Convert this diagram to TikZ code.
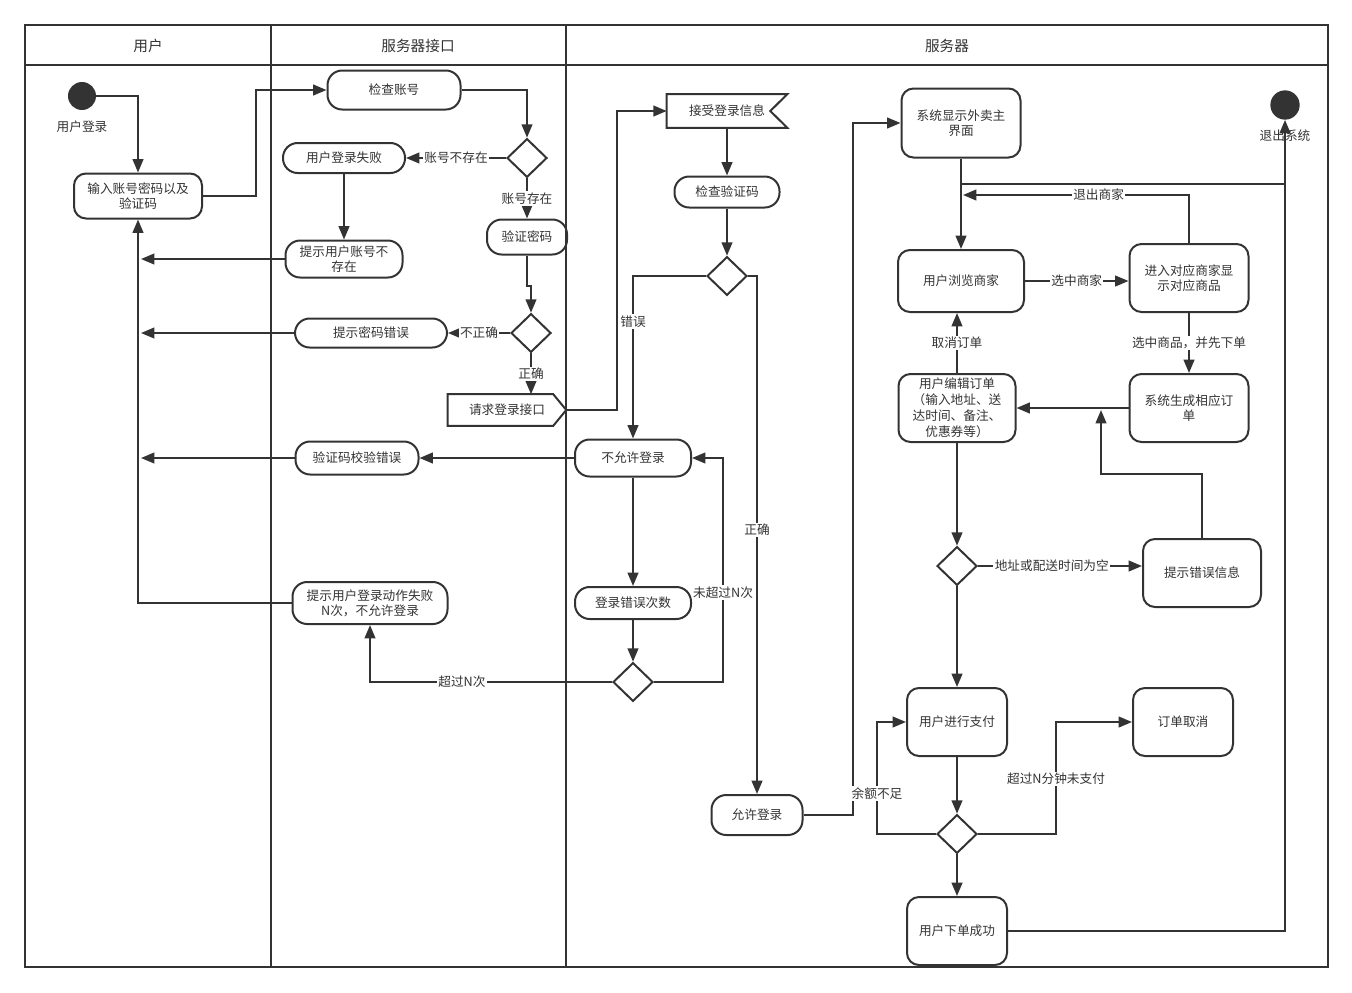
\documentclass[tikz,border=0pt]{standalone}
\usepackage{fontspec}
\setmainfont{Noto Sans CJK SC}
\usetikzlibrary{arrows.meta, positioning, shapes.geometric}
\definecolor{ink}{HTML}{333333}

\begin{document}
\begin{tikzpicture}[
    x=0.75pt, y=-0.75pt,
    font=\fontsize{9.5pt}{11pt}\selectfont, text=ink,
    sz/.style 2 args={minimum width={#1*0.75pt}, minimum height={#2*0.75pt}},
    pill/.style={draw=ink, line width=1.5pt, rounded corners=11pt, align=center, inner sep=1pt},
    box/.style={draw=ink, line width=1.5pt, rounded corners=9pt, align=center, inner sep=1pt},
    flag/.style={align=center, inner sep=1pt},
    dec/.style={draw=ink, line width=1.5pt, diamond, minimum width=30pt, minimum height=29pt, inner sep=0pt},
    dot/.style={circle, fill=ink, minimum size=21pt, inner sep=0pt},
    arr/.style={draw=ink, line width=1.5pt, -{Triangle[length=10pt, width=8pt]}},
    link/.style={draw=ink, line width=1.5pt},
    lbl/.style={fill=white, inner sep=1pt},
    lane/.style={draw=ink, line width=1.5pt},
    head/.style={font=\fontsize{11pt}{13pt}\selectfont}
]
    \useasboundingbox (0,0) rectangle (1352,992);

    % swimlanes
    \draw[lane] (25,25) rectangle (1328,967);
    \draw[lane] (25,65) -- (1328,65);
    \draw[lane] (271,25) -- (271,967);
    \draw[lane] (566,25) -- (566,967);
    \node[head] (h1) at (148,46) {用户};
    \node[head] (h2) at (418,46) {服务器接口};
    \node[head] (h3) at (947,46) {服务器};

    % user lane
    \node[dot] (s0) at (82,96) {};
    \node (s0l) at (82,127) {用户登录};
    \node[box, sz={128}{45}] (input) at (138,196) {输入账号密码以及\\验证码};

    % interface lane
    \node[pill, sz={133}{39}] (chkacc) at (394,90) {检查账号};
    \node[dec] (d1) at (527,158) {};
    \node[pill, sz={122}{30}] (fail1) at (344,158) {用户登录失败};
    \node[pill, sz={117}{37}] (noacc) at (344,259) {提示用户账号不\\存在};
    \node[pill, sz={80}{35}] (verpw) at (527,237) {验证密码};
    \node[dec] (d2) at (531,333) {};
    \node[pill, sz={152}{29}] (pwerr) at (371,333) {提示密码错误};
    \node[flag, sz={118}{31}] (req) at (507,410) {请求登录接口};
    \draw[link] (req.north west) -- ([xshift=-9.75pt]req.north east) -- (req.east)
        -- ([xshift=-9.75pt]req.south east) -- (req.south west) -- cycle;
    \node[pill, sz={123}{33}] (vcerr) at (357,458) {验证码校验错误};
    \node[pill, sz={155}{42}] (nfail) at (370,603) {提示用户登录动作失败\\N次，不允许登录};

    % server lane, login
    \node[flag, sz={120}{33}] (recv) at (727,111) {接受登录信息};
    \draw[link] (recv.north west) -- (recv.north east) -- ([xshift=-12.75pt]recv.east)
        -- (recv.south east) -- (recv.south west) -- cycle;
    \node[pill, sz={105}{31}] (chkvc) at (727,192) {检查验证码};
    \node[dec] (d3) at (727,276) {};
    \node[pill, sz={116}{37}] (deny) at (633,458) {不允许登录};
    \node[pill, sz={116}{32}] (cnt) at (633,603) {登录错误次数};
    \node[dec] (d4) at (633,682) {};
    \node[pill, sz={91}{40}] (allow) at (757,815) {允许登录};

    % server lane, ordering
    \node[box, sz={119}{69}] (main) at (961,123) {系统显示外卖主\\界面};
    \node[dot, minimum size=22pt] (s1) at (1285,105) {};
    \node (s1l) at (1285,136) {退出系统};
    \node[box, sz={126}{62}] (browse) at (961,281) {用户浏览商家};
    \node[box, sz={119}{68}] (shop) at (1189,278) {进入对应商家显\\示对应商品};
    \node[box, sz={119}{68}] (gen) at (1189,408) {系统生成相应订\\单};
    \node[box, sz={117}{68}, inner sep=0pt, font=\fontsize{9.5pt}{12pt}\selectfont] (edit) at (957,408)
        {用户编辑订单\\（输入地址、送\\达时间、备注、\\优惠券等）};
    \node[dec] (d5) at (957,566) {};
    \node[box, sz={118}{68}] (errinfo) at (1202,573) {提示错误信息};
    \node[box, sz={100}{68}] (pay) at (957,722) {用户进行支付};
    \node[box, sz={100}{68}] (cancel) at (1183,722) {订单取消};
    \node[dec] (d6) at (957,834) {};
    \node[box, sz={100}{68}] (ok) at (957,931) {用户下单成功};

    \coordinate (back) at (141,0);
    \coordinate (j1) at (961,184);
    \coordinate (j2) at (963,195);
    \coordinate (j3) at (1101,410);

    % login flow
    \draw[arr] (s0.east) -| (input.north);
    \draw[arr] (input.east) -- ++(53,0) |- (chkacc.west);
    \draw[arr] (chkacc.east) -| (d1.north);
    \draw[arr] (d1.west) -- node[lbl] {账号不存在} (fail1.east);
    \draw[arr] (d1.south) -- node[lbl] {账号存在} (verpw.north);
    \draw[arr] (fail1.south) -- (noacc.north);
    \draw[arr] (noacc.west) -- (noacc.west -| back);
    \draw[arr] (verpw.south) -- ++(0,30) -| (d2.north);
    \draw[arr] (d2.west) -- node[lbl] {不正确} (pwerr.east);
    \draw[arr] (pwerr.west) -- (pwerr.west -| back);
    \draw[arr] (d2.south) -- node[lbl] {正确} (d2.south |- req.north);
    \draw[arr] (req.east) -- ++(51,0) |- (recv.west);
    \draw[arr] (recv.south) -- (chkvc.north);
    \draw[arr] (chkvc.south) -- (d3.north);
    \draw[arr] (d3.west) -| node[lbl, pos=0.64] {错误} (deny.north);
    \draw[arr] (d3.east) -| node[lbl, pos=0.745] {正确} (allow.north);
    \draw[arr] (deny.west) -- (vcerr.east);
    \draw[arr] (vcerr.west) -- (vcerr.west -| back);
    \draw[arr] (deny.south) -- (cnt.north);
    \draw[arr] (cnt.south) -- (d4.north);
    \draw[arr] (d4.east) -- ++(69,0) |- node[lbl, pos=0.2] {未超过N次} (deny.east);
    \draw[arr] (d4.west) -| node[lbl, pos=0.31] {超过N次} (nfail.south);
    \draw[arr] (nfail.west) -| (input.south);
    \draw[arr] (allow.east) -- ++(49,0) |- (main.west);

    % ordering flow
    \draw[arr] (main.south) -- (browse.north);
    \draw[link] (j1) -- (j1 -| s1.south);
    \draw[arr] (ok.east) -| (s1.south);
    \draw[arr] (shop.north) |- node[lbl, pos=0.7] {退出商家} (j2);
    \draw[arr] (browse.east) -- node[lbl] {选中商家} (browse.east -| shop.west);
    \draw[arr] (shop.south) -- node[lbl] {选中商品，并先下单} (gen.north);
    \draw[arr] (gen.west) -- (edit.east);
    \draw[arr] (edit.north) -- node[lbl] {取消订单} (edit.north |- browse.south);
    \draw[arr] (errinfo.north) -- ++(0,-64) -| (j3);
    \draw[arr] (edit.south) -- (d5.north);
    \draw[arr] (d5.east) -- node[lbl, pos=0.45] {地址或配送时间为空} (d5.east -| errinfo.west);
    \draw[arr] (d5.south) -- (pay.north);
    \draw[arr] (pay.south) -- (d6.north);
    \draw[arr] (d6.west) -- ++(-59,0) |- node[lbl, pos=0.18] {余额不足} (pay.west);
    \draw[arr] (d6.east) -- ++(78,0) |- node[lbl, pos=0.245] {超过N分钟未支付} (cancel.west);
    \draw[arr] (d6.south) -- (ok.north);
\end{tikzpicture}
\end{document}
